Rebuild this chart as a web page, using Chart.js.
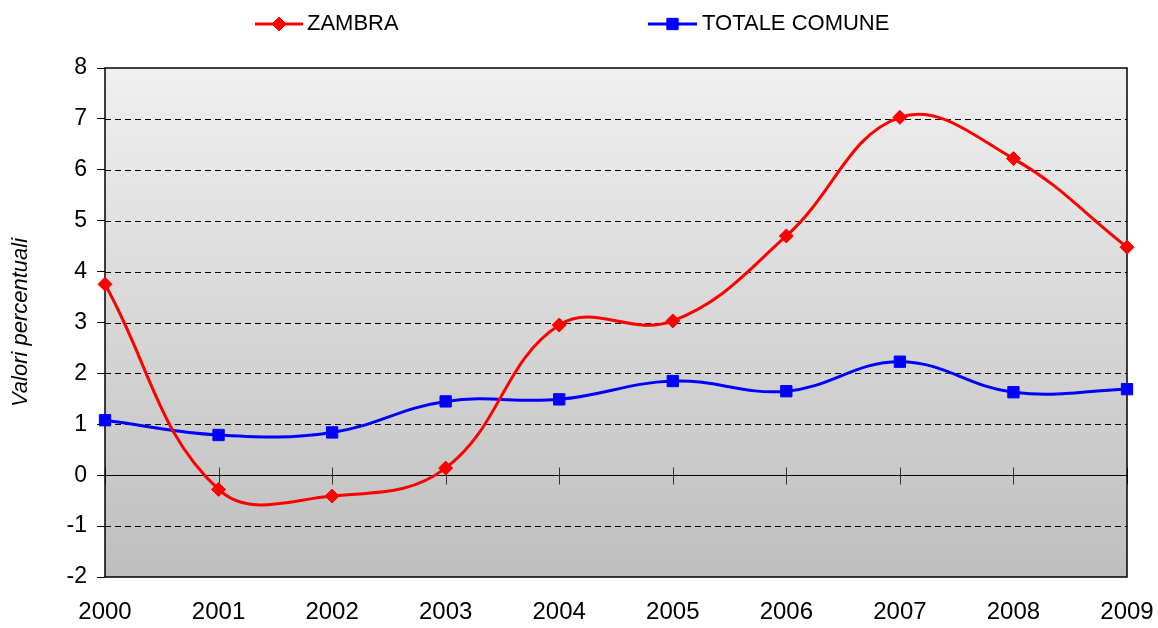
<!DOCTYPE html>
<html>
<head>
<meta charset="utf-8">
<script src="https://cdn.jsdelivr.net/npm/chart.js@4/dist/chart.umd.min.js"></script>
<style>
html,body{margin:0;padding:0;background:#fff;}
#wrap{width:1158px;height:628px;position:relative;}
</style>
</head>
<body>
<div id="wrap"><canvas id="c" width="1158" height="628"></canvas></div>
<script>
const years = ["2000","2001","2002","2003","2004","2005","2006","2007","2008","2009"];
const zambra = [3.75, -0.28, -0.41, 0.14, 2.95, 3.03, 4.70, 7.03, 6.22, 4.48];
const totaleComune = [1.08, 0.79, 0.84, 1.45, 1.49, 1.85, 1.65, 2.23, 1.63, 1.69];
const seriesNames = ["ZAMBRA", "TOTALE COMUNE"];
const yTitle = "Valori percentuali";
const yMin = -2, yMax = 8, yStep = 1;

const FONT = "'Liberation Sans', Arial, sans-serif";

const decor = {
  id: 'decor',
  beforeDatasetsDraw(chart) {
    const {ctx, chartArea: a, scales: {x, y}} = chart;
    ctx.save();
    const g = ctx.createLinearGradient(0, a.top, 0, a.bottom);
    g.addColorStop(0, '#f0f0f0');
    g.addColorStop(1, '#bebebe');
    ctx.fillStyle = g;
    ctx.fillRect(a.left, a.top, a.right - a.left, a.bottom - a.top);
    ctx.strokeStyle = '#000';
    ctx.lineWidth = 1;
    ctx.setLineDash([6, 4]);
    for (let v = yMin + yStep; v < yMax; v += yStep) {
      if (v === 0) continue;
      const py = Math.round(y.getPixelForValue(v)) + 0.5;
      ctx.beginPath(); ctx.moveTo(a.left, py); ctx.lineTo(a.right, py); ctx.stroke();
    }
    ctx.setLineDash([]);
    const zy = Math.round(y.getPixelForValue(0)) + 0.5;
    ctx.beginPath(); ctx.moveTo(a.left, zy); ctx.lineTo(a.right, zy); ctx.stroke();
    ctx.strokeStyle = '#333';
    for (let i = 0; i < years.length; i++) {
      const px = Math.round(x.getPixelForValue(i)) + 0.5;
      ctx.beginPath(); ctx.moveTo(px, zy - 8); ctx.lineTo(px, zy + 9); ctx.stroke();
    }
    ctx.strokeStyle = '#000';
    ctx.lineWidth = 1.5;
    ctx.strokeRect(a.left, a.top, a.right - a.left, a.bottom - a.top);
    ctx.restore();
  },
  afterDraw(chart) {
    const {ctx} = chart;
    ctx.save();
    const items = [
      {ds: chart.data.datasets[0], x0: 255, x1: 303, tx: 307},
      {ds: chart.data.datasets[1], x0: 648, x1: 697, tx: 702}
    ];
    const ly = 24;
    for (const it of items) {
      ctx.strokeStyle = it.ds.borderColor;
      ctx.lineWidth = 3;
      ctx.beginPath(); ctx.moveTo(it.x0, ly); ctx.lineTo(it.x1, ly); ctx.stroke();
      const cx = (it.x0 + it.x1) / 2;
      ctx.fillStyle = it.ds.pointBackgroundColor;
      ctx.strokeStyle = it.ds.pointBorderColor;
      ctx.lineWidth = 1;
      Chart.helpers.drawPoint(ctx, {pointStyle: it.ds.pointStyle, radius: it.ds.pointRadius, rotation: 0, borderWidth: 1}, cx, ly);
      ctx.fillStyle = '#000';
      ctx.font = '22px ' + FONT;
      ctx.textBaseline = 'middle';
      ctx.textAlign = 'left';
      ctx.fillText(it.ds.label, it.tx, ly);
    }
    ctx.restore();
  }
};

new Chart(document.getElementById('c'), {
  type: 'line',
  data: {
    labels: years,
    datasets: [
      {
        label: seriesNames[0], data: zambra,
        borderColor: '#ff0000', backgroundColor: '#ff0000',
        pointBackgroundColor: '#ff0000', pointBorderColor: '#ff0000',
        borderWidth: 3, pointStyle: 'rectRot', pointRadius: 7, pointBorderWidth: 1,
        tension: 0.4, fill: false
      },
      {
        label: seriesNames[1], data: totaleComune,
        borderColor: '#0000ff', backgroundColor: '#0000ff',
        pointBackgroundColor: '#0000ff', pointBorderColor: '#0000ff',
        borderWidth: 3, pointStyle: 'rect', pointRadius: 8, pointBorderWidth: 1,
        tension: 0.4, fill: false
      }
    ]
  },
  options: {
    responsive: false,
    animation: false,
    layout: {padding: {top: 68, right: 31, left: 0, bottom: 0}},
    plugins: {legend: {display: false}, tooltip: {enabled: false}},
    elements: {line: {capBezierPoints: false}},
    scales: {
      x: {
        offset: false,
        grid: {display: false},
        border: {display: false},
        ticks: {color: '#000', font: {family: FONT, size: 24}, padding: 13, maxRotation: 0, autoSkip: false},
        afterFit(s) { s.height = 51; s.paddingLeft = 0; s.paddingRight = 0; }
      },
      y: {
        min: yMin, max: yMax,
        grid: {drawOnChartArea: false, drawTicks: true, tickLength: 8, color: '#000'},
        border: {display: false},
        ticks: {stepSize: yStep, color: '#000', font: {family: FONT, size: 23}, padding: 10},
        title: {display: true, text: yTitle, color: '#000', font: {family: FONT, size: 22, style: 'italic'}, padding: {top: 8, bottom: 0}},
        afterFit(s) { s.width = 105; s.paddingTop = 0; s.paddingBottom = 0; }
      }
    }
  },
  plugins: [decor]
});
</script>
</body>
</html>
